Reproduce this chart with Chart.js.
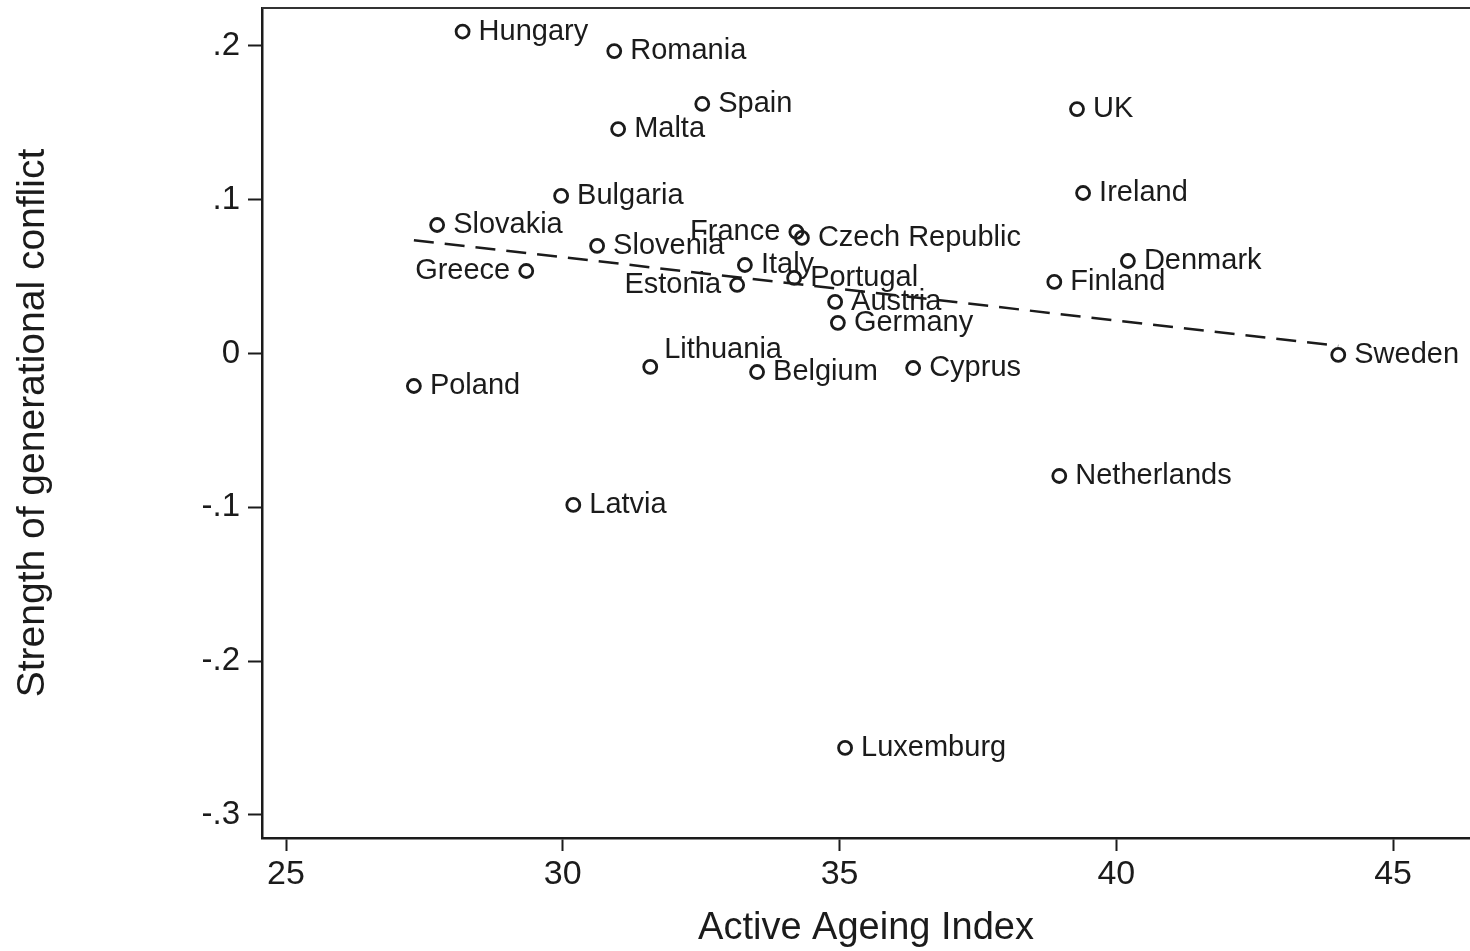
<!DOCTYPE html>
<html>
<head>
<meta charset="utf-8">
<script src="https://cdn.jsdelivr.net/npm/chart.js@4/dist/chart.umd.min.js"></script>
<style>
  html, body { margin: 0; padding: 0; background: #fff; }
  #wrap { width: 1470px; height: 951px; }
</style>
</head>
<body>
<div id="wrap"><canvas id="c" width="1470" height="951"></canvas></div>
<script>
// ── data ────────────────────────────────────────────────────
const countries = ['Hungary','Romania','Spain','Malta','UK','Ireland','Bulgaria','Slovakia',
  'Slovenia','France','Czech Republic','Greece','Italy','Portugal','Estonia','Denmark',
  'Finland','Austria','Germany','Sweden','Lithuania','Belgium','Cyprus','Poland',
  'Netherlands','Latvia','Luxemburg'];
const aai = [28.19, 30.93, 32.52, 31.00, 39.29, 39.40, 29.97, 27.73,
  30.62, 34.22, 34.32, 29.34, 33.29, 34.18, 33.15, 40.21,
  38.88, 34.92, 34.97, 44.01, 31.58, 33.51, 36.33, 27.31,
  38.97, 30.19, 35.10];
const conflict = [0.2094, 0.1967, 0.1623, 0.1460, 0.1590, 0.1044, 0.1025, 0.0836,
  0.0700, 0.0791, 0.0752, 0.0537, 0.0576, 0.0492, 0.0446, 0.0602,
  0.0466, 0.0336, 0.0200, -0.0009, -0.0087, -0.0120, -0.0094, -0.0211,
  -0.0796, -0.0984, -0.2564];
// clock position of each marker label (Stata mlabvposition style)
const labelPos = [3,3,3,3,3,3,3,3, 3,9,3,9,3,3,9,3, 3,3,3,3,1,3,3,3, 3,3,3];

const fitX = [27.31, 44.01];
const fitY = [0.0737, 0.0050];

const xTicks = [25, 30, 35, 40, 45];
const yTicks = [0.2, 0.1, 0, -0.1, -0.2, -0.3];
const yTickLabels = ['.2', '.1', '0', '-.1', '-.2', '-.3'];

const INK = '#1b1b1b';
const FONT = "'Liberation Sans', Arial, Helvetica, sans-serif";

// ── plugin: marker labels + top frame line ──────────────────
const pointLabels = {
  id: 'pointLabels',
  afterDatasetsDraw(chart) {
    const { ctx, chartArea: { left, right, top } } = chart;
    const meta = chart.getDatasetMeta(0);
    ctx.save();
    ctx.font = '29px ' + FONT;
    ctx.fillStyle = INK;
    ctx.textBaseline = 'middle';
    meta.data.forEach((pt, i) => {
      const pos = labelPos[i];
      let dx = 16, dy = 0, align = 'left';
      if (pos === 9) { dx = -16; align = 'right'; }
      if (pos === 1) { dx = 14; dy = -17; }
      ctx.textAlign = align;
      ctx.fillText(countries[i], pt.x + dx, pt.y + dy);
    });
    ctx.restore();

    ctx.save();
    ctx.strokeStyle = '#333';
    ctx.lineWidth = 2;
    ctx.beginPath();
    ctx.moveTo(left, top);
    ctx.lineTo(right, top);
    ctx.stroke();
    ctx.restore();
  }
};

// no extra room for half tick labels at the scale ends
function noEdgePad(s) {
  s.paddingTop = 0; s.paddingBottom = 0; s.paddingLeft = 0; s.paddingRight = 0;
}

new Chart(document.getElementById('c'), {
  type: 'scatter',
  data: {
    datasets: [
      {
        label: 'countries',
        data: aai.map((x, i) => ({ x, y: conflict[i] })),
        pointStyle: 'circle',
        pointRadius: 6.5,
        pointBorderWidth: 2.8,
        pointBorderColor: INK,
        pointBackgroundColor: 'rgba(255,255,255,0)',
        showLine: false
      },
      {
        label: 'fit',
        data: fitX.map((x, i) => ({ x, y: fitY[i] })),
        showLine: true,
        borderColor: INK,
        borderWidth: 2.5,
        borderDash: [20, 11],
        pointRadius: 0,
        fill: false
      }
    ]
  },
  options: {
    responsive: false,
    animation: false,
    layout: { autoPadding: false, padding: { left: 0, right: 0, top: 8, bottom: 0 } },
    plugins: { legend: { display: false }, tooltip: { enabled: false } },
    scales: {
      x: {
        type: 'linear',
        min: 24.566,
        max: 46.39,
        afterBuildTicks(s) { s.ticks = xTicks.map(v => ({ value: v })); },
        afterFit(s) { s.height = 113; noEdgePad(s); },
        grid: { drawOnChartArea: false, drawTicks: true, tickLength: 13, tickColor: INK, tickWidth: 2 },
        border: { display: true, color: INK, width: 2.5 },
        ticks: { color: INK, font: { family: FONT, size: 34 }, padding: 3, maxRotation: 0 },
        title: { display: true, text: 'Active Ageing Index', color: INK,
                 font: { family: FONT, size: 38 }, padding: { top: 0, bottom: 0 } }
      },
      y: {
        type: 'linear',
        min: -0.315,
        max: 0.2247,
        afterBuildTicks(s) { s.ticks = yTicks.map(v => ({ value: v })); },
        afterFit(s) { s.width = 262; noEdgePad(s); },
        grid: { drawOnChartArea: false, drawTicks: true, tickLength: 14, tickColor: INK, tickWidth: 2 },
        border: { display: true, color: INK, width: 2.5 },
        ticks: {
          color: INK, font: { family: FONT, size: 33 }, padding: 8,
          callback: (v) => yTickLabels[yTicks.findIndex(t => Math.abs(t - v) < 1e-9)]
        },
        title: { display: true, text: 'Strength of generational conflict', color: INK,
                 font: { family: FONT, size: 39 }, padding: { top: 10, bottom: 0 } }
      }
    }
  },
  plugins: [pointLabels]
});
</script>
</body>
</html>
